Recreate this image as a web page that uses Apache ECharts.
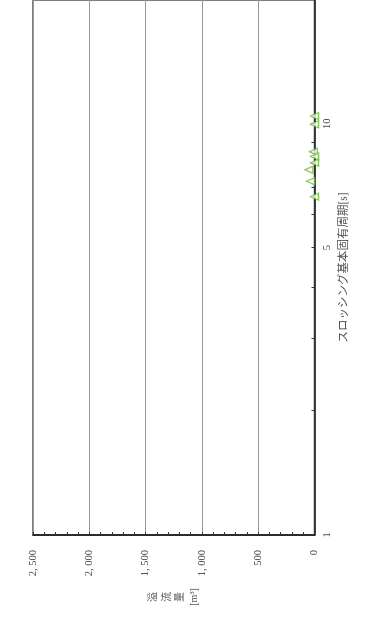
<!DOCTYPE html>
<html>
<head>
<meta charset="utf-8">
<script src="https://cdn.jsdelivr.net/npm/echarts@6/dist/echarts.min.js"></script>
<style>
html,body{margin:0;padding:0;background:#fff;overflow:hidden;width:365px;height:617px;}
#chart{position:absolute;left:0;top:0;width:617px;height:365px;transform-origin:0 0;transform:translateY(617px) rotate(-90deg);}
</style>
</head>
<body>
<div id="chart"></div>
<script>
// Data
const periods = [10.44, 9.97, 8.55, 8.33, 8.04, 7.73, 7.25, 6.65];   // スロッシング基本固有周期 [s]
const overflow = [0, 0, 10, 0, 0, 50, 35, 0];                        // 溢流量 [m3]
const periodTicks = [1, 2, 3, 4, 5, 6, 7, 8, 9, 10, 20];
const periodLabels = [1, 5, 10];
const xName = 'スロッシング基本固有周期[s]';
const yName = '溢\n流\n量\n[m³]';

const FONT = "'Liberation Serif', 'DejaVu Serif', 'Noto Sans CJK JP', serif";
const chart = echarts.init(document.getElementById('chart'), null, {renderer: 'canvas'});
chart.setOption({
  animation: false,
  backgroundColor: '#fff',
  grid: {left: 82, right: 0, top: 33, bottom: 50.5, show: true, borderColor: '#555', borderWidth: 1.5, backgroundColor: 'transparent'},
  xAxis: {
    type: 'log', logBase: 10, min: 1, max: 20,
    name: xName, nameLocation: 'middle', nameGap: 24,
    nameTextStyle: {fontFamily: FONT, fontSize: 11.5, color: '#555'},
    axisLine: {show: true, onZero: false, lineStyle: {color: '#111', width: 1.5}},
    axisTick: {show: true, inside: true, length: 3, customValues: periodTicks, lineStyle: {color: '#333'}},
    minorTick: {show: false},
    axisLabel: {customValues: periodLabels, fontFamily: FONT, fontSize: 10.5, color: '#444', margin: 8,
      formatter: v => String(v)},
    splitLine: {show: false}
  },
  yAxis: {
    type: 'value', min: 0, max: 2500, interval: 500,
    name: yName, nameLocation: 'middle', nameRotate: 0, nameGap: 62,
    nameTextStyle: {fontFamily: FONT, fontSize: 10, color: '#555', lineHeight: 13.5, align: 'center', verticalAlign: 'middle'},
    axisLine: {show: true, lineStyle: {color: '#111', width: 1.5}},
    axisTick: {show: true, inside: true, length: 3, lineStyle: {color: '#333'}},
    minorTick: {show: true, splitNumber: 5, length: 3, lineStyle: {color: '#333'}},
    axisLabel: {fontFamily: FONT, fontSize: 10.5, color: '#444', margin: 15,
      formatter: v => v >= 1000 ? Math.floor(v / 1000) + ', ' + String(v % 1000).padStart(3, '0') : String(v)},
    splitLine: {show: true, lineStyle: {color: '#999', width: 1.2}}
  },
  series: [{
    type: 'scatter',
    data: periods.map((p, i) => [p, overflow[i]]),
    symbol: 'triangle', symbolSize: [7, 8],
    clip: false,
    itemStyle: {color: '#fff', borderColor: '#6cb83a', borderWidth: 1.3},
    z: 1
  }]
});
</script>
</body>
</html>
